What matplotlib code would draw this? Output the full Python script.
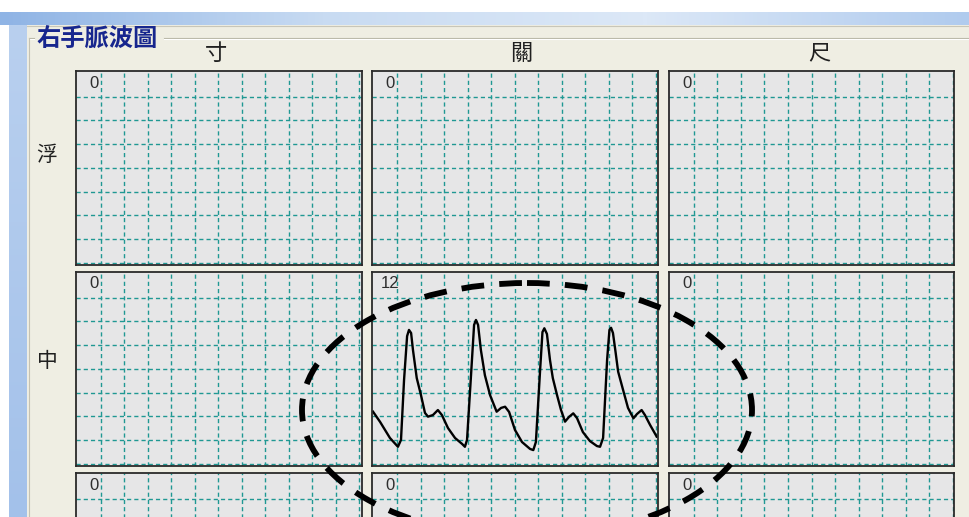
import matplotlib
matplotlib.use("Agg")
import matplotlib.pyplot as plt
import numpy as np
from matplotlib.patches import Rectangle, Ellipse
from matplotlib.colors import LinearSegmentedColormap

plt.rcParams['font.family'] = ['Noto Sans CJK TC', 'DejaVu Sans']

W, H = 970, 517

# labels
title = "右手脈波圖"
col_names = ["寸", "關", "尺"]
row_names = ["浮", "中"]

# reading shown in the corner of each panel (rows: 浮 / 中 / 沉)
readings = [[0, 0, 0],
            [0, 12, 0],
            [0, 0, 0]]

# pulse trace of the 中-關 panel, in grid divisions
wave_t = [-0.02, 0.28, 0.70, 1.04, 1.17, 1.30, 1.43, 1.51, 1.60, 1.68, 1.84,
          2.02, 2.19, 2.32, 2.53, 2.74, 2.91, 3.17, 3.47, 3.77, 3.89,
          3.98, 4.15, 4.28, 4.36, 4.45, 4.57, 4.74, 4.96, 5.24, 5.43, 5.60,
          5.77, 6.02, 6.32, 6.66, 6.80,
          6.91, 7.09, 7.19, 7.27, 7.38, 7.51, 7.63, 7.81, 7.98, 8.15, 8.32,
          8.50, 8.66, 8.91, 9.21, 9.51, 9.64,
          9.77, 9.94, 10.04, 10.11, 10.19, 10.30, 10.41, 10.62, 10.83, 11.06,
          11.21, 11.41, 11.55, 11.77, 12.05]
wave_v = [2.19, 1.76, 1.08, 0.71, 1.00, 3.53, 5.38, 5.64, 5.51, 4.79, 3.61,
          2.89, 2.14, 1.98, 2.05, 2.26, 2.05, 1.50, 1.08, 0.83, 0.71,
          1.00, 3.73, 5.85, 6.06, 5.85, 4.79, 3.73, 2.89, 2.19, 2.35, 2.40,
          2.18, 1.42, 0.91, 0.62, 0.57,
          0.91, 3.95, 5.55, 5.71, 5.47, 4.37, 3.61, 2.89, 2.26, 1.77, 1.97,
          2.12, 1.92, 1.33, 0.95, 0.74, 0.71,
          1.08, 4.37, 5.64, 5.73, 5.51, 4.71, 3.88, 3.11, 2.35, 1.91,
          2.09, 2.26, 2.05, 1.63, 1.14]

col_left = [76, 372, 669]
col_right = [362, 657.5, 954]
row_top = [71, 272, 473]
panel_h = 194
div_x, div_y = 23.5, 23.7

CREAM = '#efeee3'
GRID = '#1f9893'

fig = plt.figure(figsize=(W / 100, H / 100), dpi=100, facecolor='white')


def px_axes(x0, y0, x1, y1, **kw):
    return fig.add_axes([x0 / W, 1 - y1 / H, (x1 - x0) / W, (y1 - y0) / H], **kw)


# window background, drawn in pixel units
bg = px_axes(0, 0, W, H, zorder=-5)
bg.patch.set_alpha(0)
band = LinearSegmentedColormap.from_list('band', ['#8fb4e5', '#c8dbf2', '#dce8f7', '#b0cbee'])
bg.imshow(np.linspace(0, 1, 256)[None, :], cmap=band, aspect='auto',
          extent=(0, W, 25, 12), interpolation='bilinear', zorder=1)
side = LinearSegmentedColormap.from_list('side', ['#b9d0ef', '#a3c1ea'])
bg.imshow(np.linspace(0, 1, 256)[:, None], cmap=side, aspect='auto',
          extent=(9, 27, H, 25), interpolation='bilinear', zorder=1)
bg.add_patch(Rectangle((27, 25), W - 27, H - 25, color=CREAM, lw=0, zorder=2))
bg.plot([27, W], [25.5, 25.5], color='#c8c6b8', lw=0.8, zorder=3)
# group box frame around the title
for y, c in [(37.5, '#b8b6a6'), (38.5, 'white')]:
    bg.plot([29, 34], [y, y], color=c, lw=0.8, zorder=3)
    bg.plot([164, W], [y, y], color=c, lw=0.8, zorder=3)
bg.plot([29.5, 29.5], [37.5, H], color='#c4c2b3', lw=0.8, zorder=3)
bg.text(36, 39, title, fontsize=17.5, fontweight='bold', color='#17268e',
        ha='left', va='center')
for name, x in zip(col_names, [216, 521, 819]):
    bg.text(x, 53, name, fontsize=16, color='#202020', ha='center', va='center')
for name, y in zip(row_names, [155, 361]):
    bg.text(47, y, name, fontsize=15, color='#202020', ha='center', va='center')
bg.set_xlim(0, W)
bg.set_ylim(H, 0)
bg.axis('off')

# the 3x3 pulse panels
for r in range(3):
    for c in range(3):
        x0, x1 = col_left[c], col_right[c]
        y0 = row_top[r]
        ax = px_axes(x0, y0, x1, y0 + panel_h)
        ax.set_facecolor('#e6e6e7')
        ax.set_xlim(-1.5 / div_x, (x1 - x0 - 1.5) / div_x)
        ax.set_ylim(-2.4 / div_y, (panel_h - 2.4) / div_y)
        ax.set_xticks(range(1, 13))
        ax.set_yticks(range(0, 8))
        ax.tick_params(length=0, labelbottom=False, labelleft=False)
        ax.grid(True, color=GRID, linestyle=(0, (3.0, 2.2)), lw=1.0)
        for s in ax.spines.values():
            s.set_color('#2a2a2a')
            s.set_linewidth(1.3)
        ax.text(18.5 / (x1 - x0), 1 - 12 / panel_h, str(readings[r][c]),
                transform=ax.transAxes, fontsize=12, color='#2e2e2e',
                family='Liberation Sans', ha='center', va='center')
        if r == 1 and c == 1:
            ax.plot(wave_t, wave_v, color='black', lw=1.7)

# dashed ring drawn over the panels
top = px_axes(0, 0, W, H, zorder=10)
top.set_xlim(0, W)
top.set_ylim(H, 0)
top.axis('off')
top.patch.set_alpha(0)
top.add_patch(Ellipse((527, 410), 450, 254, fill=False, edgecolor='black',
                      lw=4.2, linestyle=(0, (3.9, 2.6))))

fig.savefig('out.png', dpi=100)
